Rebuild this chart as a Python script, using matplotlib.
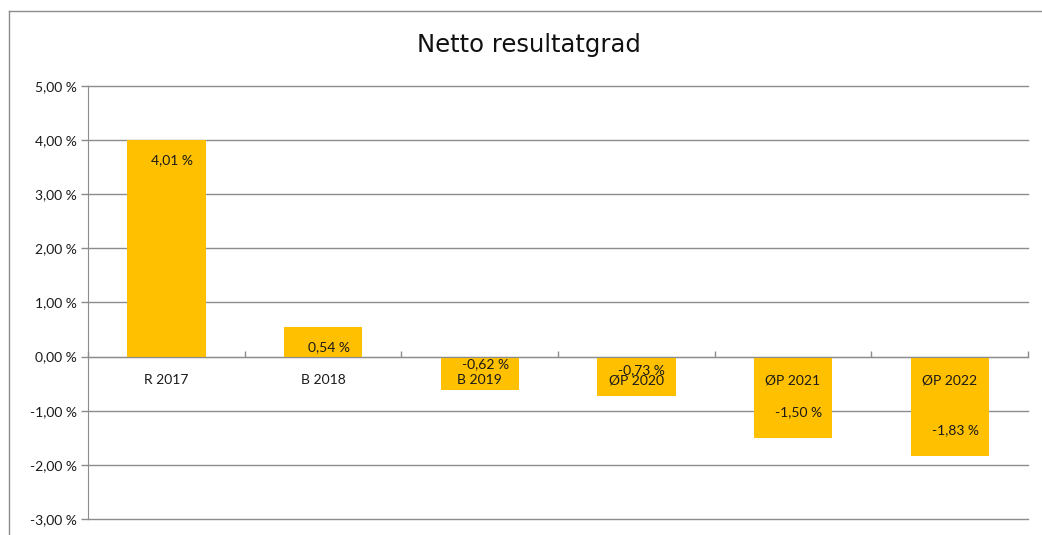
import numpy as np
import matplotlib
matplotlib.use("Agg")
import matplotlib.pyplot as plt
from matplotlib.lines import Line2D

# data (percent)
categories = ["R 2017", "B 2018", "B 2019", "ØP 2020", "ØP 2021", "ØP 2022"]
values = [4.01, 0.54, -0.62, -0.73, -1.50, -1.83]
y_ticks = [-3, -2, -1, 0, 1, 2, 3, 4, 5]

bar_color = "#FFC000"
grid_color = "#8C8C8C"
text_color = "#1A1A1A"
label_font = "Lato"


def fmt_pct(v):
    return f"{v:.2f}".replace(".", ",") + " %"


fig = plt.figure(figsize=(10.42, 5.35), dpi=100)
ax = fig.add_axes([0.0845, 0.0299, 0.9021, 0.8094])

x = np.arange(len(categories))
bars = ax.bar(x, values, width=0.5, color=bar_color, zorder=3)

ax.set_xlim(-0.5, len(categories) - 0.5)
ax.set_ylim(min(y_ticks), max(y_ticks))
ax.set_yticks(y_ticks)
ax.set_yticklabels([fmt_pct(t) for t in y_ticks], fontsize=10,
                   family=label_font, color=text_color)
ax.yaxis.grid(True, color=grid_color, linewidth=1.0, zorder=0)
for gl in ax.get_ygridlines():
    gl.set_clip_on(False)
ax.tick_params(axis="y", length=5, width=1, color=grid_color, pad=3)

# category axis at zero, small ticks between categories pointing up
for s in ["top", "right"]:
    ax.spines[s].set_visible(False)
ax.spines["left"].set_color(grid_color)
ax.spines["bottom"].set_color(grid_color)
ax.spines["bottom"].set_position(("data", 0))
ax.spines["bottom"].set_zorder(4)
ax.set_xticks(np.arange(len(categories) + 1) - 0.5)
ax.tick_params(axis="x", direction="in", length=4, width=1,
               color=grid_color, labelbottom=False)

for xi, name in zip(x, categories):
    ax.annotate(name, (xi, 0), xytext=(0, -17), textcoords="offset points",
                ha="center", va="center", fontsize=10, family=label_font,
                color=text_color, zorder=5)

# value labels at inside end of bars
for xi, v in zip(x, values):
    off = -14.5 if v > 0 else 18.5
    ax.annotate(fmt_pct(v), (xi, v), xytext=(4, off), textcoords="offset points",
                ha="center", va="center", fontsize=10, family=label_font,
                color=text_color, zorder=5)

fig.text(0.508, 0.916, "Netto resultatgrad", ha="center", va="center",
         fontsize=17.5, family="DejaVu Sans", color="#111111")

# outer chart border (top and left visible)
fig.add_artist(Line2D([9 / 1042, 1.0], [1 - 11 / 535, 1 - 11 / 535],
                      transform=fig.transFigure, color="#8C8C8C", linewidth=1))
fig.add_artist(Line2D([9 / 1042, 9 / 1042], [0.0, 1 - 11 / 535],
                      transform=fig.transFigure, color="#8C8C8C", linewidth=1))

fig.savefig("out.png", dpi=100, facecolor="white")
